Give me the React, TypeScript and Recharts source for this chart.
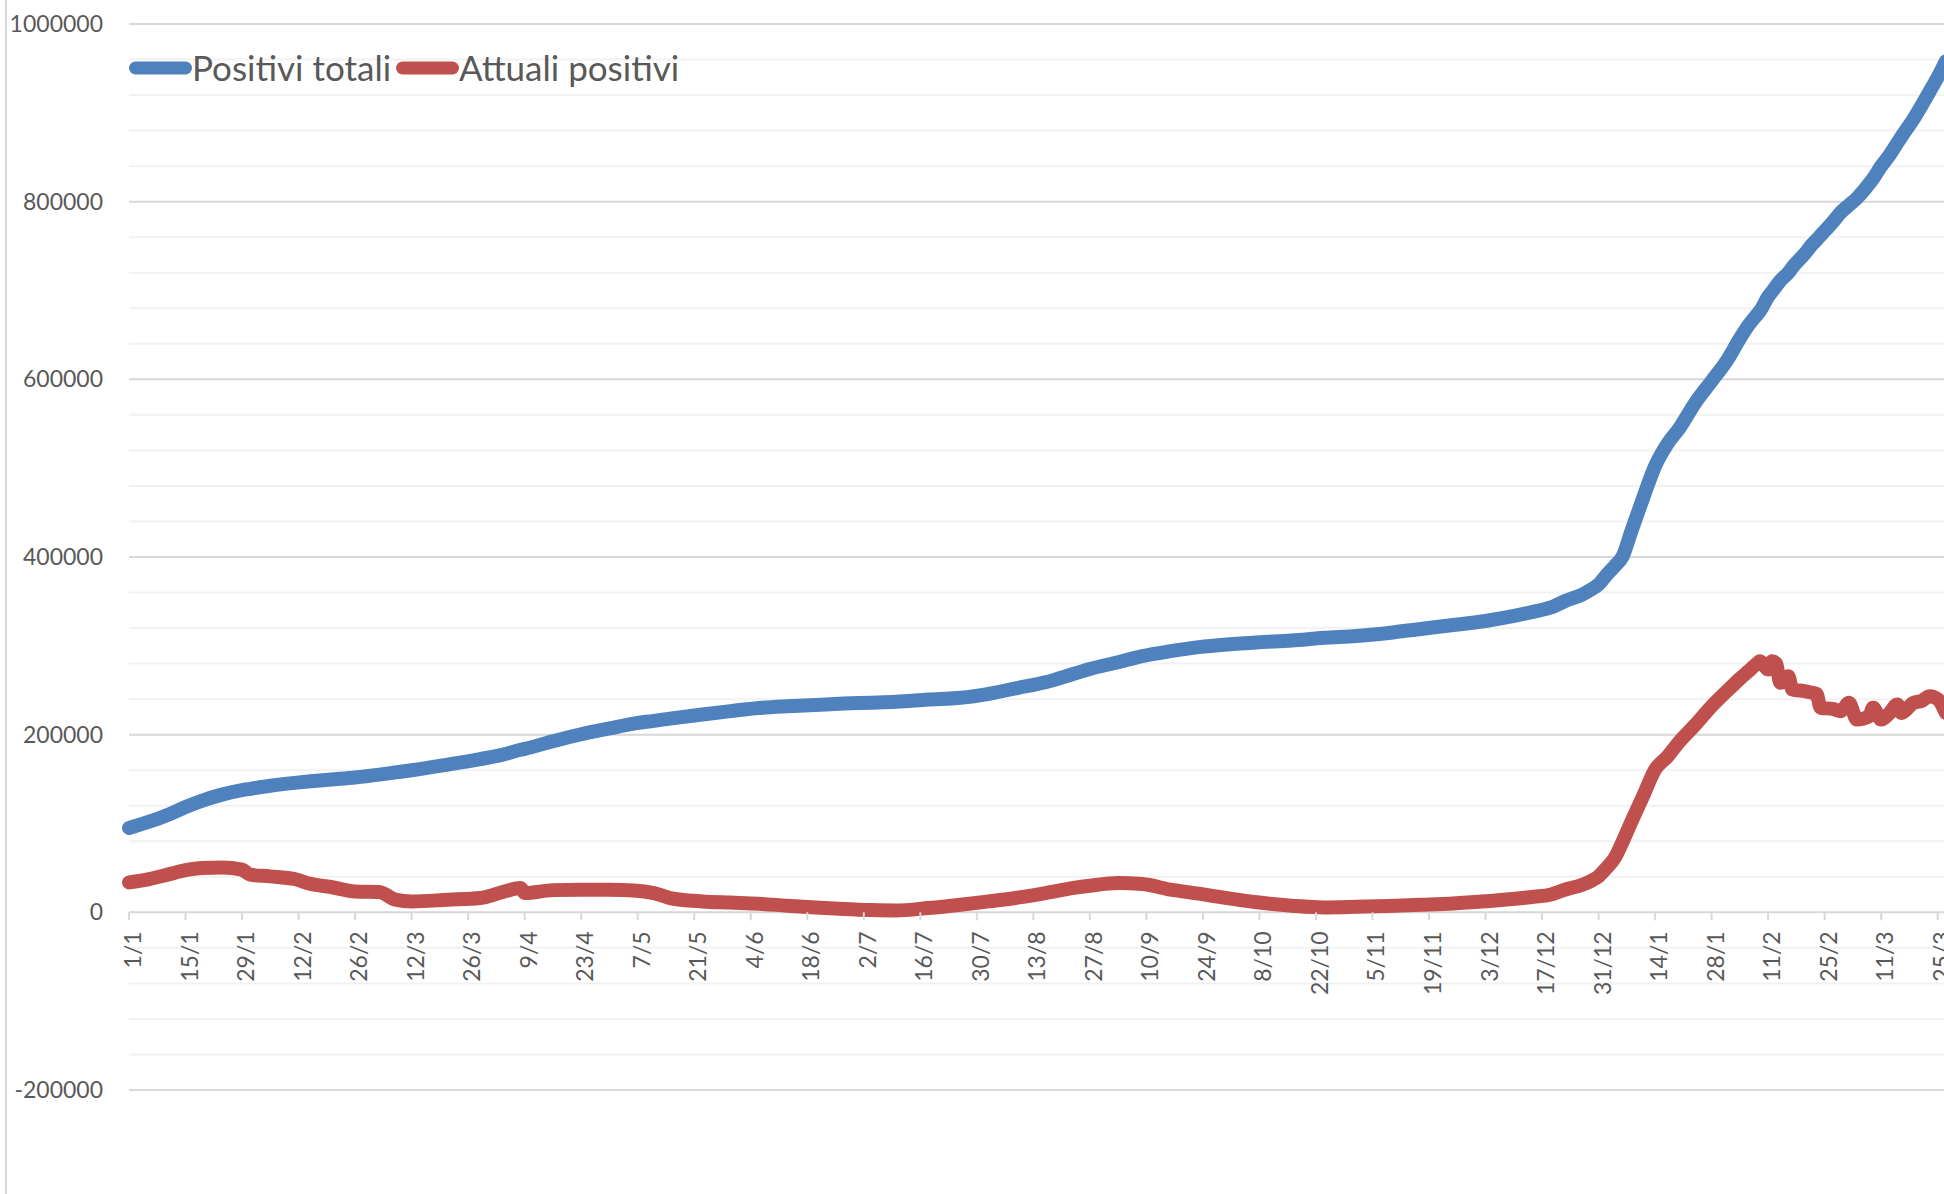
import { LineChart, Line, XAxis, YAxis, CartesianGrid, Legend } from 'recharts';

// giorni dal 1/1/2021
const days = [
  0, 5, 10, 14, 18, 23, 28, 30, 35, 41, 45, 50, 56, 62, 66, 70, 79, 87, 93, 97,
  98, 105, 112, 119, 125, 130, 134, 142, 149, 156, 163, 170, 177, 184, 190, 198, 206, 213, 220, 227,
  234, 238, 245, 251, 258, 265, 272, 280, 288, 296, 304, 312, 320, 328, 336, 344, 348, 352, 356, 360,
  362, 364, 366, 368, 370, 372, 375, 378, 381, 384, 388, 392, 396, 399, 401, 403, 404, 406, 407, 408,
  409, 411, 412, 415, 417, 418, 419, 422, 424, 426, 428, 431, 432, 434, 436, 438, 439, 442, 444, 446,
  448, 450,
];

const positiviTotali = [
  95000, 102000, 110500, 118500, 125500, 132500, 137500, 139000, 142500, 145700, 147500, 149500, 151800, 155000, 157500, 160000, 166300, 172500, 178000, 183000,
  184000, 192600, 200500, 207000, 212500, 215500, 218000, 222700, 226500, 230000, 232000, 233500, 235000, 236000, 237000, 239500, 241500, 246000, 252500, 259000,
  268500, 274000, 281600, 288500, 294000, 298500, 301500, 304000, 306000, 309000, 311000, 314500, 319000, 323500, 328000, 334500, 338500, 342900, 351000, 357900,
  363000, 369100, 380000, 389800, 401000, 427400, 466000, 502400, 527000, 545000, 574000, 598000, 622700, 646000, 660000, 671500, 677000, 693000, 699000, 705000,
  711000, 720000, 726000, 741000, 752300, 757000, 762000, 777000, 788000, 796000, 804000, 820000, 826000, 840000, 852000, 866000, 873000, 893000, 908100, 924000,
  940000, 958000,
];

const attualiPositivi = [
  33700, 37500, 43000, 47500, 49900, 50500, 48000, 42400, 40500, 37500, 32000, 28500, 23500, 23000, 14200, 12300, 14200, 16100, 23500, 27400,
  21700, 25000, 25500, 25500, 24700, 21700, 16100, 12300, 11000, 9700, 7500, 5500, 3700, 2500, 2100, 4800, 8500, 12300, 16500, 21700,
  27500, 30000, 33000, 31900, 25500, 21000, 16000, 11000, 7500, 5500, 6200, 7200, 8500, 10000, 12500, 15500, 17500, 19800, 26000, 31100,
  35000, 40500, 50000, 61200, 80000, 100600, 130600, 160700, 175000, 192000, 211400, 232000, 250000, 263000, 271000, 279000, 282700, 273400, 282700, 280000,
  258400, 265800, 250800, 249000, 247000, 246000, 230200, 229000, 226400, 235800, 217000, 220700, 230200, 217000, 224000, 233900, 224500, 235800, 238000, 243300,
  240000, 224500,
];

const tickLabels = [
  '1/1', '15/1', '29/1', '12/2', '26/2', '12/3', '26/3', '9/4', '23/4', '7/5', '21/5',
  '4/6', '18/6', '2/7', '16/7', '30/7', '13/8', '27/8', '10/9', '24/9', '8/10', '22/10',
  '5/11', '19/11', '3/12', '17/12', '31/12', '14/1', '28/1', '11/2', '25/2', '11/3', '25/3',
];
const tickDays = tickLabels.map((_, i) => i * 14);

const yTicks = [-200000, 0, 200000, 400000, 600000, 800000, 1000000];
const yMinorTicks = Array.from({ length: 31 }, (_, i) => -200000 + i * 40000);

const seriesNames = ['Positivi totali', 'Attuali positivi'];
const seriesColors = ['#4F81BD', '#C0504D'];

const data = days.map((day, i) => ({
  day,
  totali: positiviTotali[i],
  attuali: attualiPositivi[i],
}));

const CHART_W = 1970;
const CHART_H = 1194;
const MARGIN = { top: 24, right: 0, bottom: 103, left: 0 };
const X_AXIS_H = 1;
const Y_MIN = yTicks[0];
const Y_MAX = yTicks[yTicks.length - 1];
const PLOT_H = CHART_H - MARGIN.top - MARGIN.bottom - X_AXIS_H;
const ZERO_Y = MARGIN.top + (PLOT_H * Y_MAX) / (Y_MAX - Y_MIN);
const TEXT = '#595959';

// griglia secondaria ogni 40000
const minorGrid = ({ offset }: any) =>
  yMinorTicks.map((v) => offset.top + (offset.height * (Y_MAX - v)) / (Y_MAX - Y_MIN));

// asse x sulla linea dello zero, etichette ruotate
const DateTick = ({ x, payload }: any) => {
  const label = tickLabels[tickDays.indexOf(payload.value)];
  return (
    <g>
      <line x1={x} x2={x} y1={ZERO_Y} y2={ZERO_Y + 8} stroke="#d9d9d9" strokeWidth={2} />
      <text
        transform={`translate(${x + 12}, ${ZERO_Y + 19}) rotate(-90)`}
        textAnchor="end"
        fill={TEXT}
        fontSize={23}
        fontFamily="Lato"
      >
        {label}
      </text>
    </g>
  );
};

const LegendContent = () => (
  <div style={{ display: 'flex', alignItems: 'center' }}>
    {seriesNames.map((name, i) => (
      <div key={name} style={{ display: 'flex', alignItems: 'center', marginRight: 5 }}>
        <svg width={63} height={14}>
          <line x1={6.5} x2={56.5} y1={7} y2={7} stroke={seriesColors[i]} strokeWidth={13} strokeLinecap="round" />
        </svg>
        <span style={{ fontFamily: 'Lato', fontSize: 35, lineHeight: '35px', color: TEXT }}>{name}</span>
      </div>
    ))}
  </div>
);

export default function App() {
  return (
    <div
      style={{
        position: 'fixed',
        left: 0,
        top: 0,
        width: 1944,
        height: 1194,
        overflow: 'hidden',
        background: '#fff',
        fontFamily: 'Lato',
      }}
    >
      <div style={{ position: 'absolute', left: 5, top: 0, height: 1194, borderLeft: '2px solid #d9d9d9' }} />
      <LineChart width={CHART_W} height={CHART_H} data={data} margin={MARGIN}>
        <CartesianGrid vertical={false} stroke="#f2f2f2" strokeWidth={2} horizontalCoordinatesGenerator={minorGrid} />
        <CartesianGrid vertical={false} stroke="#d9d9d9" strokeWidth={2} />
        <XAxis
          dataKey="day"
          type="number"
          domain={[0, 456]}
          ticks={tickDays}
          interval={0}
          height={X_AXIS_H}
          axisLine={false}
          tickLine={false}
          tickSize={0}
          tickMargin={0}
          tick={<DateTick />}
        />
        <YAxis
          type="number"
          domain={[Y_MIN, Y_MAX]}
          ticks={yTicks}
          interval={0}
          width={129}
          axisLine={false}
          tickLine={false}
          tickSize={6}
          tickMargin={20}
          tick={{ fill: TEXT, fontSize: 23, fontFamily: 'Lato' }}
        />
        <Legend
          layout="horizontal"
          verticalAlign="middle"
          align="center"
          wrapperStyle={{ left: 129, top: 50, width: 'auto' }}
          content={<LegendContent />}
        />
        <Line
          dataKey="totali"
          name={seriesNames[0]}
          stroke={seriesColors[0]}
          strokeWidth={14}
          strokeLinecap="round"
          strokeLinejoin="round"
          type="monotone"
          dot={false}
          activeDot={false}
          isAnimationActive={false}
        />
        <Line
          dataKey="attuali"
          name={seriesNames[1]}
          stroke={seriesColors[1]}
          strokeWidth={14}
          strokeLinecap="round"
          strokeLinejoin="round"
          type="monotone"
          dot={false}
          activeDot={false}
          isAnimationActive={false}
        />
      </LineChart>
    </div>
  );
}
